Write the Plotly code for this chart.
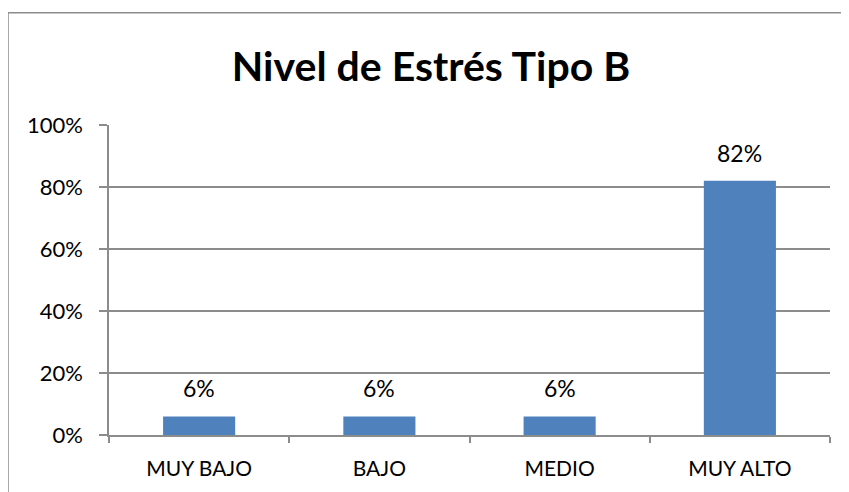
import plotly.graph_objects as go

categories = ["MUY BAJO", "BAJO", "MEDIO", "MUY ALTO"]
values = [6, 6, 6, 82]
labels = ["6%", "6%", "6%", "82%"]
tick_vals = [0, 20, 40, 60, 80, 100]
tick_text = ["0%", "20%", "40%", "60%", "80%", "100%"]
title = "Nivel de Estrés Tipo B"

FONT = "Lato, 'Open Sans', sans-serif"
GRID = "#8c8c8c"

fig = go.Figure()
fig.add_trace(go.Bar(x=categories, y=values, marker=dict(color="#4f81bd", line=dict(width=0)),
                     width=0.4, hoverinfo="skip"))

for c, v, t in zip(categories, values, labels):
    fig.add_annotation(x=c, y=v, text=t, showarrow=False, yanchor="bottom", yshift=12,
                       font=dict(family=FONT, size=23, color="black"))

# page body has an 8px margin, so the figure starts at (8, 8)
fig.update_layout(
    width=841, height=484,
    margin=dict(l=101, r=19, t=117, b=55),
    paper_bgcolor="white", plot_bgcolor="white",
    showlegend=False,
    title=dict(text="<b>" + title + "</b>", x=0.503, xanchor="center", y=1 - 59 / 484, yanchor="middle",
               font=dict(family=FONT, size=41, color="black")),
    xaxis=dict(showgrid=False, showline=True, linecolor=GRID, linewidth=1.5,
               ticks="outside", tickson="boundaries", ticklen=6, tickcolor=GRID, tickwidth=1.5,
               ticklabelstandoff=14,
               tickfont=dict(family=FONT, size=21, color="black"), fixedrange=True),
    yaxis=dict(range=[0, 100], tickvals=tick_vals, ticktext=tick_text, showgrid=True, gridcolor=GRID,
               gridwidth=1.5, showline=True, linecolor=GRID, linewidth=1.5, ticks="outside", ticklen=8,
               tickcolor=GRID, tickwidth=1.5, zeroline=False, ticklabelstandoff=12,
               tickfont=dict(family=FONT, size=22, color="black"), fixedrange=True),
    shapes=[
        dict(type="line", xref="paper", yref="paper", x0=(8 - 109) / 721, x1=(8 - 109) / 721,
             y0=(437 - 12) / 312, y1=(437 - 500) / 312, line=dict(color=GRID, width=1.5)),
        dict(type="line", xref="paper", yref="paper", x0=(8 - 109) / 721, x1=(852 - 109) / 721,
             y0=(437 - 12) / 312, y1=(437 - 12) / 312, line=dict(color=GRID, width=1.5)),
    ],
)

fig.write_html("out.html", config={"displayModeBar": False})
